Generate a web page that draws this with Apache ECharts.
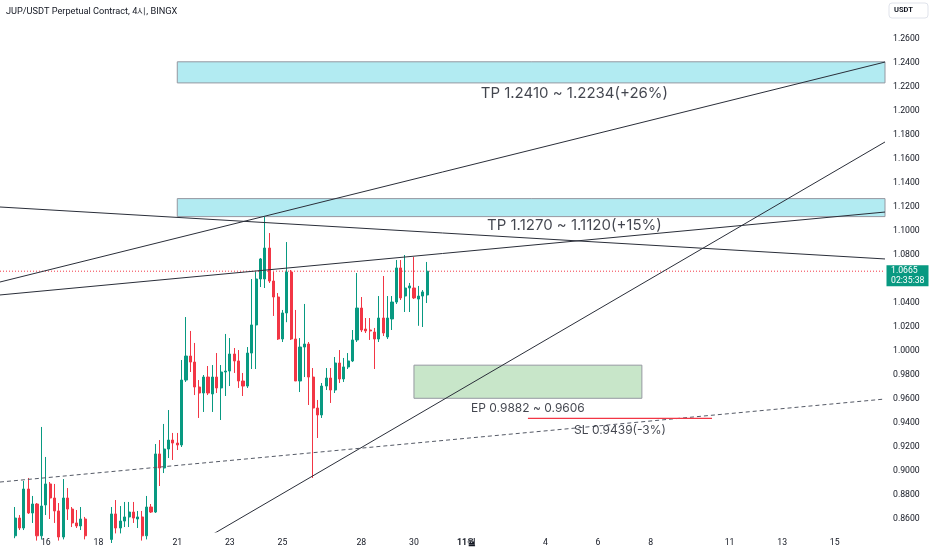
<!DOCTYPE html>
<html>
<head>
<meta charset="utf-8">
<script src="https://cdn.jsdelivr.net/npm/echarts@6/dist/echarts.min.js"></script>
<style>
html,body{margin:0;padding:0;background:#fff;}
#chart{width:932px;height:550px;}
</style>
</head>
<body>
<div id="chart"></div>
<script>
// ---- data ----
const titleText = 'JUP/USDT Perpetual Contract, 4시, BINGX';
const currency = 'USDT';
// 4h bars counted from Oct 14 00:00; first drawn bar index
const firstBar = 5;
// [open, close, low, high]
const candles = [
  [0.8460,0.8608,0.8440,0.8700],[0.8608,0.8525,0.8508,0.8633],[0.8525,0.8850,0.8508,0.8917],
  [0.8850,0.8650,0.8642,0.8942],[0.8650,0.8725,0.8567,0.8792],[0.8725,0.8460,0.8420,0.8733],
  [0.8460,0.8708,0.8430,0.9367],[0.8717,0.8892,0.8633,0.9117],[0.8892,0.8775,0.8600,0.8908],
  [0.8775,0.8667,0.8567,0.8892],[0.8667,0.8450,0.8420,0.8733],[0.8450,0.8775,0.8430,0.8933],
  [0.8775,0.8683,0.8592,0.8858],[0.8683,0.8567,0.8533,0.8700],[0.8567,0.8542,0.8525,0.8675],
  [0.8542,0.8600,0.8508,0.8700],[0.8600,0.8460,0.8430,0.8617],[0.8460,0.8380,0.8320,0.8480],
  [0.8380,0.8350,0.8290,0.8450],[0.8350,0.8400,0.8300,0.8460],[0.8400,0.8360,0.8310,0.8470],
  [0.8360,0.8430,0.8330,0.8480],[0.8430,0.8642,0.8400,0.8700],[0.8642,0.8525,0.8480,0.8758],
  [0.8525,0.8583,0.8480,0.8708],[0.8583,0.8617,0.8533,0.8742],[0.8617,0.8658,0.8533,0.8742],
  [0.8658,0.8608,0.8567,0.8742],[0.8600,0.8617,0.8525,0.8667],[0.8617,0.8460,0.8420,0.8667],
  [0.8460,0.8700,0.8430,0.8792],[0.8700,0.8658,0.8650,0.8725],[0.8658,0.9142,0.8650,0.9225],
  [0.9142,0.9025,0.8875,0.9258],[0.9025,0.9183,0.8983,0.9392],[0.9183,0.9258,0.9108,0.9508],
  [0.9258,0.9233,0.9092,0.9317],[0.9233,0.9217,0.9175,0.9317],[0.9217,0.9758,0.9200,0.9925],
  [0.9758,0.9958,0.9742,1.0283],[0.9958,0.9908,0.9825,1.0167],[0.9908,0.9700,0.9633,1.0067],
  [0.9700,0.9650,0.9442,0.9758],[0.9650,0.9783,0.9492,0.9800],[0.9783,0.9650,0.9633,0.9875],
  [0.9642,0.9783,0.9492,0.9883],[0.9783,0.9692,0.9650,0.9983],[0.9692,0.9825,0.9425,0.9883],
  [0.9825,0.9833,0.9625,1.0142],[0.9833,0.9975,0.9708,1.0108],[0.9975,0.9917,0.9817,1.0025],
  [0.9917,0.9750,0.9692,1.0008],[0.9750,0.9708,0.9625,0.9817],[0.9708,0.9983,0.9692,1.0033],
  [0.9983,1.0217,0.9850,1.0600],[1.0217,1.0600,0.9850,1.0658],[1.0600,1.0767,1.0533,1.0775],
  [1.0600,1.0858,1.0525,1.1117],[1.0858,1.0583,1.0567,1.0983],[1.0583,1.0450,1.0292,1.0658],
  [1.0450,1.0100,1.0092,1.0483],[1.0100,1.0317,1.0075,1.0342],[1.0317,1.0658,1.0240,1.0908],
  [1.0658,1.0100,1.0092,1.0675],[1.0100,0.9750,0.9750,1.0342],[0.9750,1.0033,0.9658,1.0108],
  [1.0033,1.0058,0.9783,1.0392],[1.0058,0.9783,0.9550,1.0075],[0.9783,0.9525,0.8942,0.9858],
  [0.9525,0.9467,0.9275,0.9592],[0.9467,0.9708,0.9442,0.9733],[0.9708,0.9775,0.9675,0.9858],
  [0.9775,0.9675,0.9567,0.9858],[0.9675,0.9900,0.9650,0.9950],[0.9900,0.9767,0.9733,1.0008],
  [0.9767,0.9867,0.9742,0.9942],[0.9867,0.9917,0.9850,0.9983],[0.9917,1.0092,0.9908,1.0175],
  [1.0092,1.0358,1.0075,1.0650],[1.0358,1.0175,1.0158,1.0450],[1.0183,1.0167,1.0150,1.0275],
  [1.0175,1.0167,1.0092,1.0275],[1.0158,1.0100,0.9850,1.0192],[1.0100,1.0275,1.0075,1.0458],
  [1.0275,1.0150,1.0125,1.0625],[1.0117,1.0275,1.0100,1.0458],[1.0267,1.0408,1.0175,1.0458],
  [1.0408,1.0692,1.0392,1.0758],[1.0692,1.0442,1.0425,1.0758],[1.0458,1.0525,1.0325,1.0800],
  [1.0525,1.0542,1.0325,1.0567],[1.0525,1.0442,1.0433,1.0783],[1.0433,1.0458,1.0210,1.0542],
  [1.0458,1.0492,1.0200,1.0508],[1.0467,1.0665,1.0400,1.0742]
];
const lastPrice = 1.0665;
const countdown = '02:35:38';
// x-axis tick labels: [bar index, text]
const xTicks = [[12,'16'],[24,'18'],[42,'21'],[54,'23'],[66,'25'],[84,'28'],[96,'30'],
  [108,'11월'],[126,'4'],[138,'6'],[150,'8'],[168,'11'],[180,'13'],[192,'15']];
const yTicks = [0.86,0.88,0.90,0.92,0.94,0.96,0.98,1.00,1.02,1.04,1.06,1.08,1.10,1.12,1.14,1.16,1.18,1.20,1.22,1.24,1.26];
// visible range
const xRange = [1.553, 203.47];
const yRange = [0.84917, 1.2925];
// trend lines: [[bar, price],[bar, price]]
const trendUpper = [[1.553,1.0575],[203.47,1.2408]];
const trendDown = [[1.553,1.1200],[203.47,1.0767]];
const trendMid = [[1.553,1.0467],[203.47,1.1158]];
const trendSteep = [[48,0.8428],[203.47,1.1742]];
const trendDashed = [[1.553,0.8908],[203.47,0.9600]];
// zones [fromBar, toBar, high, low]
const tpZones = [[42,203.47,1.2410,1.2234],[42,203.47,1.1270,1.1120]];
const epZone = [96,148,0.9882,0.9606];
const slLine = [122,164,0.9439];
// notes [bar, price, text]
const tpNotes = [
  [132.6,1.2150,'TP 1.2410 ~ 1.2234(+26%)'],
  [132.6,1.1042,'TP 1.1270 ~ 1.1120(+15%)']
];
const entryNotes = [
  [122.0,0.9525,'EP 0.9882 ~ 0.9606'],
  [143.0,0.9342,'SL 0.9439(-3%)']
];

// ---- chart ----
const UP = '#089981', DOWN = '#f23645', TXT = '#131722';
const chart = echarts.init(document.getElementById('chart'), null, {renderer:'canvas'});
const tickMap = {}; xTicks.forEach(t => tickMap[t[0]] = t[1]);
const candleRows = candles.map((c,k) => [firstBar + k, c[0], c[1], c[2], c[3]]);
const lineSeries = (data, dashed) => ({
  type:'line', data, symbol:'none', clip:true, silent:true, z:4,
  lineStyle:{color: dashed ? '#555a66' : '#2a2e39', width:1, type: dashed ? [4,3] : 'solid'}
});
const noteSeries = (data, size) => ({
  type:'scatter', data, symbolSize:1, silent:true, z:5, itemStyle:{color:'rgba(0,0,0,0)'},
  label:{show:true, position:'inside', formatter:p => p.value[2], fontSize:size, color:TXT, fontFamily:'Inter'}
});
const zoneArea = (z, fill) => [{coord:[z[0], z[2]], itemStyle:{color:fill}}, {coord:[z[1], z[3]]}];

const option = {
  animation:false,
  backgroundColor:'#ffffff',
  title:{text:titleText, left:6, top:7, padding:0,
    textStyle:{fontSize:9.2, fontWeight:'normal', color:TXT, fontFamily:'Roboto'}},
  grid:{left:0, right:47, top:0, bottom:18, containLabel:false},
  xAxis:{type:'value', min:xRange[0], max:xRange[1],
    splitLine:{show:false}, axisLine:{show:false}, axisTick:{show:false},
    axisLabel:{customValues:xTicks.map(t=>t[0]), margin:6, fontSize:8.7, color:TXT, fontFamily:'Roboto',
      formatter: v => { const t = tickMap[v]; if (t === undefined) return ''; return t.indexOf('월')>=0 ? '{b|'+t+'}' : t; },
      rich:{b:{fontWeight:'bold', fontSize:8.7, color:TXT, fontFamily:'Roboto'}}}},
  yAxis:{type:'value', position:'right', min:yRange[0], max:yRange[1], scale:true,
    splitLine:{show:false}, axisLine:{show:false}, axisTick:{show:false},
    axisLabel:{customValues:yTicks, margin:8, fontSize:8.7, color:TXT, fontFamily:'Roboto',
      formatter: v => v.toFixed(4)}},
  series:[
    { type:'line', data:[], silent:true, z:1,
      markArea:{silent:true, itemStyle:{borderColor:'#9598a1', borderWidth:1},
        data:[zoneArea(tpZones[0],'#b2ebf2'), zoneArea(tpZones[1],'#b2ebf2'), zoneArea(epZone,'#c8e6c9')]}},
    { type:'line', data:[[xRange[0], lastPrice],[xRange[1], lastPrice]], symbol:'none', silent:true, z:2,
      lineStyle:{type:[1,2], color:DOWN, width:1}},
    { type:'candlestick', data:candleRows, encode:{x:0, y:[1,2,3,4]}, barWidth:2.6, clip:true, z:3,
      itemStyle:{color:UP, color0:DOWN, borderColor:UP, borderColor0:DOWN, borderWidth:1}},
    lineSeries(trendUpper), lineSeries(trendDown), lineSeries(trendMid), lineSeries(trendSteep),
    lineSeries(trendDashed, true),
    { type:'line', data:[[slLine[0],slLine[2]],[slLine[1],slLine[2]]], symbol:'none', silent:true, z:4,
      lineStyle:{color:DOWN, width:1.2}},
    noteSeries(tpNotes, 15),
    noteSeries(entryNotes, 12)
  ]
};
chart.setOption(option);

const py = chart.convertToPixel({yAxisIndex:0}, lastPrice);
chart.setOption({graphic:[
  {type:'rect', z:100, shape:{x:889, y:3, width:39, height:15, r:3}, style:{fill:'#fff', stroke:'#e0e3eb', lineWidth:1}},
  {type:'text', z:101, x:894, y:10.5, style:{text:currency, fontSize:7.5, fill:TXT, fontFamily:'Roboto', verticalAlign:'middle', fontWeight:'bold'}},
  {type:'rect', z:100, shape:{x:886.5, y:py-6, width:42, height:21}, style:{fill:UP}},
  {type:'text', z:101, x:891, y:py, style:{text:lastPrice.toFixed(4), fontSize:8.7, fill:'#fff', fontFamily:'Roboto', verticalAlign:'middle'}},
  {type:'text', z:101, x:891, y:py+9.5, style:{text:countdown, fontSize:8.7, fill:'#fff', fontFamily:'Roboto', verticalAlign:'middle'}}
]});
</script>
</body>
</html>
